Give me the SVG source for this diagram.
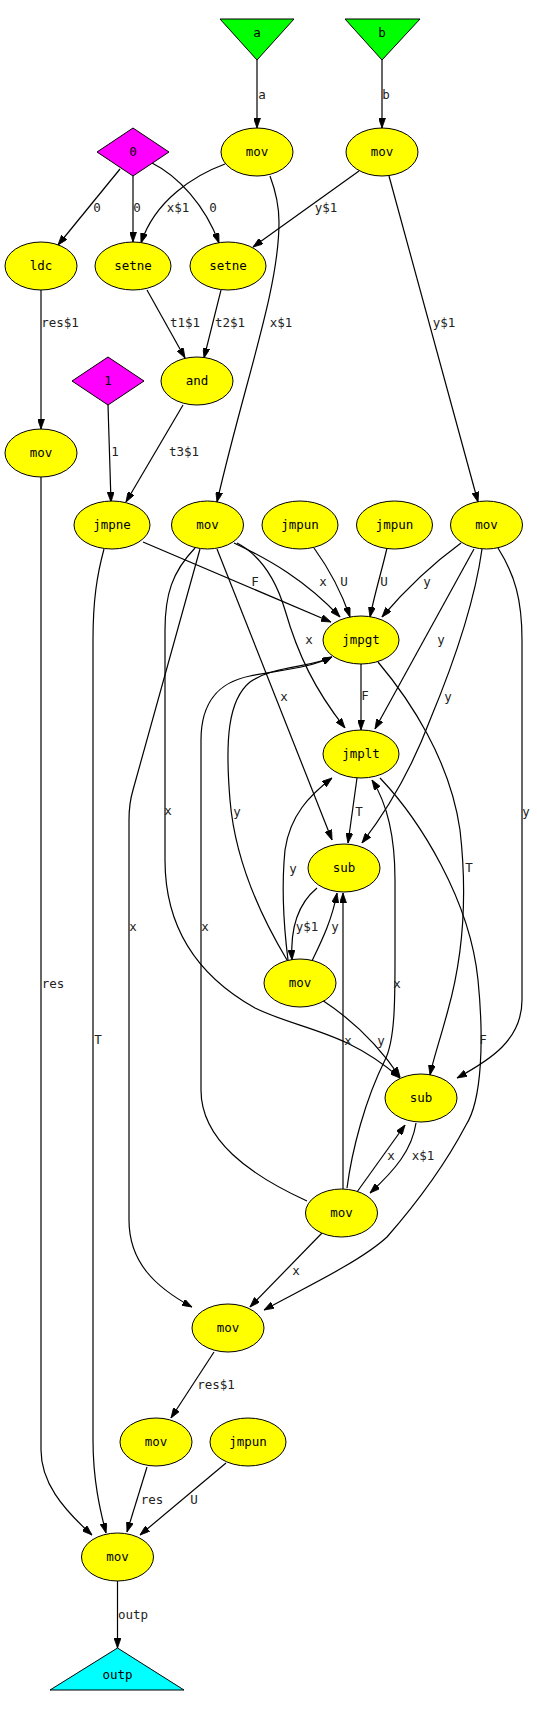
<svg xmlns="http://www.w3.org/2000/svg" width="537" height="1709" viewBox="0 0 537 1709">
<style>
.n{fill:#ffff00;stroke:#000;stroke-width:1}
.d{fill:#ff00ff;stroke:#000;stroke-width:1}
.g{fill:#00ff00;stroke:#000;stroke-width:1}
.c{fill:#00ffff;stroke:#000;stroke-width:1}
text{font-family:"DejaVu Sans Mono","Liberation Mono",monospace;font-size:12.5px;fill:#000;text-anchor:middle}
.e path{fill:none;stroke:#000;stroke-width:1.2;marker-end:url(#ah)}
.e text{fill:#222}
</style>
<defs>
<marker id="ah" viewBox="0 0 10 7" refX="10" refY="3.5" markerWidth="10" markerHeight="7" markerUnits="userSpaceOnUse" orient="auto"><path d="M0,0 L10,3.5 L0,7 z" fill="#000" stroke="#000" stroke-width="0.8"/></marker>
</defs>
<rect width="537" height="1709" fill="#fff"/>
<g class="e">
<path d="M257,60 L257,128"/><text x="262" y="99">a</text>
<path d="M382,60 L382,128"/><text x="386" y="99">b</text>
<path d="M120,169 L58,245"/><text x="97" y="212">0</text>
<path d="M133,176 L133,242"/><text x="137" y="212">0</text>
<path d="M152,163 C178,176 205,205 219,243"/><text x="213" y="212">0</text>
<path d="M225,164 C195,175 155,200 141,243"/><text x="178" y="212">x$1</text>
<path d="M359,171 L253,247"/><text x="326" y="212">y$1</text>
<path d="M270,176 C276,192 279,206 279,222 C279,290 245,380 217,502"/><text x="281" y="327">x$1</text>
<path d="M389,176 L478,502"/><text x="444" y="327">y$1</text>
<path d="M41,290 L41,429"/><text x="60" y="327">res$1</text>
<path d="M147,290 L185,358"/><text x="185" y="327">t1$1</text>
<path d="M221,290 L204,358"/><text x="230" y="327">t2$1</text>
<path d="M108,405 L111,502"/><text x="115" y="456">1</text>
<path d="M183,405 L126,502"/><text x="184" y="456">t3$1</text>
<path d="M41,477 L41,1450 C41,1482 62,1508 92,1535"/><text x="53" y="988">res</text>
<path d="M104,549 C97,575 93,600 93,640 L93,1440 C93,1480 100,1510 106,1533"/><text x="98" y="1044">T</text>
<path d="M143,542 L331,622"/><text x="255" y="586">F</text>
<path d="M234,543 C270,560 305,580 340,617"/><text x="323" y="586">x</text>
<path d="M314,548 C327,566 340,588 350,617"/><text x="344" y="586">U</text>
<path d="M387,548 C382,570 375,592 370,617"/><text x="384" y="586">U</text>
<path d="M461,543 C435,562 405,590 382,617"/><text x="427" y="586">y</text>
<path d="M237,543 C262,556 276,580 285,610 C298,655 315,690 345,728"/><text x="309" y="644">x</text>
<path d="M474,549 L375,729"/><text x="441" y="644">y</text>
<path d="M361,664 L361,730"/><text x="365" y="700">F</text>
<path d="M217,549 L332,840"/><text x="284" y="701">x</text>
<path d="M482,549 C475,600 455,660 430,720 C415,760 395,800 362,843"/><text x="448" y="701">y</text>
<path d="M357,778 L348,843"/><text x="359" y="816">T</text>
<path d="M195,548 C172,572 165,595 165,630 L165,860 C165,935 205,980 255,1008 C300,1030 345,1030 400,1078"/><text x="168" y="815">x</text>
<path d="M200,549 L133,790 C130,800 129,810 129,820 L129,1220 C129,1262 155,1287 192,1307"/><text x="133" y="931">x</text>
<path d="M498,548 C515,575 522,600 522,640 L522,1000 C522,1040 490,1060 457,1078"/><text x="526" y="816">y</text>
<path d="M378,662 C410,700 450,760 460,830 C468,900 462,960 448,1010 C440,1040 433,1060 430,1075"/><text x="469" y="872">T</text>
<path d="M380,778 C420,820 470,900 478,980 C484,1040 482,1100 466,1125 C445,1165 415,1205 387,1237 C360,1262 300,1290 264,1310"/><text x="483" y="1044">F</text>
<path d="M287,960 C260,915 235,860 230,800 C225,740 228,700 250,682 C275,665 310,668 332,657"/><text x="237" y="816">y</text>
<path d="M307,1201 C250,1175 201,1140 201,1090 L201,740 C201,700 220,682 250,676 C280,670 310,668 332,657"/><text x="205" y="931">x</text>
<path d="M317,888 C300,902 290,925 292,960"/><text x="307" y="931">y$1</text>
<path d="M312,961 C322,940 332,920 337,893"/><text x="335" y="931">y</text>
<path d="M288,960 C283,920 282,880 285,850 C290,815 310,795 332,778"/><text x="293" y="873">y</text>
<path d="M322,1000 C345,1015 375,1040 400,1077"/><text x="381" y="1045">y</text>
<path d="M343,1189 L343,893"/><text x="348" y="1045">x</text>
<path d="M347,1188 C352,1150 365,1100 385,1060 C395,1040 395,1000 395,960 L395,880 C395,830 385,800 372,780"/><text x="397" y="988">x</text>
<path d="M357,1192 L405,1125"/><text x="391" y="1160">x</text>
<path d="M416,1123 C412,1150 395,1170 370,1193"/><text x="423" y="1160">x$1</text>
<path d="M322,1233 L250,1307"/><text x="296" y="1275">x</text>
<path d="M214,1352 L171,1418"/><text x="216" y="1389">res$1</text>
<path d="M147,1467 L127,1532"/><text x="152" y="1504">res</text>
<path d="M226,1463 L140,1535"/><text x="194" y="1504">U</text>
<path d="M117.5,1581 L117.5,1648"/><text x="133" y="1619">outp</text>
</g>
<g id="in_a"><polygon class="g" points="220,19 294,19 257,60"/><text x="257" y="37">a</text></g>
<g id="in_b"><polygon class="g" points="345,19 420,19 382,60"/><text x="382" y="37">b</text></g>
<g id="mov_a"><ellipse class="n" cx="257" cy="152" rx="36" ry="24"/><text x="257" y="156">mov</text></g>
<g id="mov_b"><ellipse class="n" cx="382" cy="152" rx="36" ry="24"/><text x="382" y="156">mov</text></g>
<g id="const0"><polygon class="d" points="97,152 133,128 169,152 133,176"/><text x="133" y="156">0</text></g>
<g id="ldc"><ellipse class="n" cx="41" cy="266" rx="36" ry="24"/><text x="41" y="270">ldc</text></g>
<g id="setne1"><ellipse class="n" cx="133" cy="266" rx="38" ry="24"/><text x="133" y="270">setne</text></g>
<g id="setne2"><ellipse class="n" cx="228" cy="266" rx="38" ry="24"/><text x="228" y="270">setne</text></g>
<g id="const1"><polygon class="d" points="72,381 108,357 144,381 108,405"/><text x="108" y="385">1</text></g>
<g id="and"><ellipse class="n" cx="197" cy="381" rx="36" ry="24"/><text x="197" y="385">and</text></g>
<g id="mov_l"><ellipse class="n" cx="41" cy="453" rx="36" ry="24"/><text x="41" y="457">mov</text></g>
<g id="jmpne"><ellipse class="n" cx="112" cy="525" rx="38" ry="24"/><text x="112" y="529">jmpne</text></g>
<g id="mov_x"><ellipse class="n" cx="207.5" cy="525" rx="36" ry="24"/><text x="207.5" y="529">mov</text></g>
<g id="jmpun1"><ellipse class="n" cx="300" cy="525" rx="38" ry="24"/><text x="300" y="529">jmpun</text></g>
<g id="jmpun2"><ellipse class="n" cx="394.5" cy="525" rx="38" ry="24"/><text x="394.5" y="529">jmpun</text></g>
<g id="mov_y"><ellipse class="n" cx="486.5" cy="525" rx="36" ry="24"/><text x="486.5" y="529">mov</text></g>
<g id="jmpgt"><ellipse class="n" cx="361" cy="640" rx="38" ry="24"/><text x="361" y="644">jmpgt</text></g>
<g id="jmplt"><ellipse class="n" cx="361" cy="754" rx="38" ry="24"/><text x="361" y="758">jmplt</text></g>
<g id="sub1"><ellipse class="n" cx="344" cy="868" rx="36" ry="24"/><text x="344" y="872">sub</text></g>
<g id="mov_m"><ellipse class="n" cx="300" cy="983" rx="36" ry="24"/><text x="300" y="987">mov</text></g>
<g id="sub2"><ellipse class="n" cx="421" cy="1098" rx="36" ry="24"/><text x="421" y="1102">sub</text></g>
<g id="mov_lo"><ellipse class="n" cx="341.5" cy="1213" rx="36" ry="24"/><text x="341.5" y="1217">mov</text></g>
<g id="mov_b2"><ellipse class="n" cx="228" cy="1328" rx="36" ry="24"/><text x="228" y="1332">mov</text></g>
<g id="mov_r"><ellipse class="n" cx="156" cy="1442" rx="36" ry="24"/><text x="156" y="1446">mov</text></g>
<g id="jmpun3"><ellipse class="n" cx="248" cy="1442" rx="38" ry="24"/><text x="248" y="1446">jmpun</text></g>
<g id="mov_f"><ellipse class="n" cx="117.5" cy="1557" rx="36" ry="24"/><text x="117.5" y="1561">mov</text></g>
<g id="out_p"><polygon class="c" points="117.5,1648 184,1690 50,1690"/><text x="117.5" y="1679">outp</text></g>
</svg>
